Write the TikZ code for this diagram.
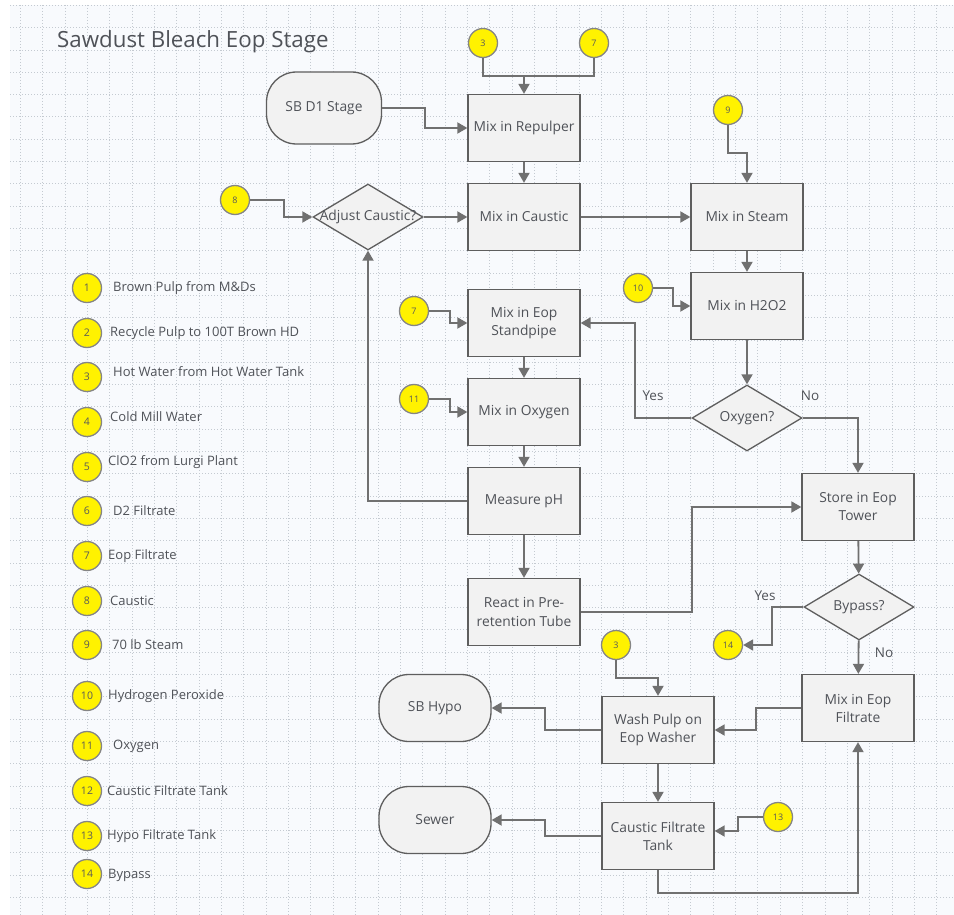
\documentclass[tikz,border=0pt]{standalone}
\usepackage{fontspec}
\setmainfont{Open Sans}
\usetikzlibrary{shapes.geometric,arrows.meta,positioning}

\definecolor{boxfill}{HTML}{F2F2F2}
\definecolor{boxline}{HTML}{5E5E5E}
\definecolor{wire}{HTML}{707070}
\definecolor{txt}{HTML}{4F5258}
\definecolor{sheet}{HTML}{F8FAFD}
\definecolor{gridc}{HTML}{C4CAD1}
\definecolor{refline}{HTML}{858585}

\begin{document}
\begin{tikzpicture}[x=1pt,y=-1pt,node distance=89pt]

\tikzstyle{process} = [rectangle, minimum width=112pt, minimum height=67pt, inner sep=2pt, text centered, align=center, fill=boxfill, draw=boxline, line width=1.3pt, text=txt, font=\fontsize{13.8}{18}\selectfont]
\tikzstyle{terminal} = [process, rounded corners=30pt]
\tikzstyle{decision} = [diamond, minimum width=110pt, minimum height=66pt, inner sep=0pt, fill=boxfill, draw=boxline, line width=1.3pt, text=txt, font=\fontsize{13.8}{18}\selectfont]
\tikzstyle{offpage} = [circle, minimum size=29pt, inner sep=0pt, fill=yellow, draw=refline, line width=1.3pt, text=black!65, font=\fontsize{9}{10}\selectfont]
\tikzstyle{line} = [draw=wire, line width=1.8pt]
\tikzstyle{arrow} = [line, -{Triangle[length=10pt,width=11pt]}]
\tikzstyle{answer} = [text=txt, font=\fontsize{13.5}{16}\selectfont, inner sep=0pt]
\tikzstyle{legend} = [anchor=west, text=txt, font=\fontsize{13}{15}\selectfont, inner sep=0pt]

% sheet and grid
\useasboundingbox (0,0) rectangle (954,915);
\fill[white] (0,0) rectangle (954,915);
\fill[sheet] (10,5) rectangle (954,915);
\foreach \gx in {20.3,42.65,...,954}
  \draw[gridc, line width=0.8pt, dash pattern=on 1pt off 2pt] (\gx,5) -- (\gx,915);
\foreach \gy in {5.4,27.7,...,915}
  \draw[gridc, line width=0.8pt, dash pattern=on 1pt off 2pt] (10,\gy) -- (954,\gy);

\node (title) [anchor=west, inner sep=0pt, text=txt, font=\fontsize{22.3}{26}\selectfont] at (57,42) {Sawdust Bleach Eop Stage};

% legend
\foreach \n/\lx/\ly/\cy/\txt in {1/113/288/288/Brown Pulp from M\&Ds,
    2/110/333/333/Recycle Pulp to 100T Brown HD,
    3/113/372/377/Hot Water from Hot Water Tank,
    4/110/417/422/Cold Mill Water,
    5/108/462/467/ClO2 from Lurgi Plant,
    6/113/511/511/D2 Filtrate,
    7/108/556/556/Eop Filtrate,
    8/110/601/601/Caustic,
    9/112/645/645/70 lb Steam,
    10/108/696/696/Hydrogen Peroxide,
    11/113/746/746/Oxygen,
    12/107/791/791/Caustic Filtrate Tank,
    13/107/836/836/Hypo Filtrate Tank,
    14/108/875/874/Bypass}
{
  \node (l\n) [offpage, font=\fontsize{10.5}{12}\selectfont] at (87,\cy) {\n};
  \node (lt\n) [legend] at (\lx,\ly) {\txt};
}

% flow
\node (sbd1) [terminal, minimum width=115pt, minimum height=72pt] at (324,108) {SB D1 Stage};
\node (rep) [process] at (524,128) {Mix in Repulper};
\node (caus) [process, below of = rep] {Mix in Caustic};
\node (adj) [decision] at (368,217) {\makebox[0pt]{Adjust Caustic?}};
\node (steam) [process] at (747,217) {Mix in Steam};
\node (h2o2) [process, below of = steam] {Mix in H2O2};
\node (oxq) [decision] at (747,418) {\makebox[0pt]{Oxygen?}};
\node (stand) [process] at (524,323) {Mix in Eop\\Standpipe};
\node (oxy) [process, below of = stand] {Mix in Oxygen};
\node (ph) [process, below of = oxy] {Measure pH};
\node (react) [process] at (524,612) {React in Pre-\\retention Tube};
\node (store) [process] at (858,507) {Store in Eop\\Tower};
\node (byp) [decision] at (859,607) {\makebox[0pt]{Bypass?}};
\node (filt) [process] at (858,708) {Mix in Eop\\Filtrate};
\node (wash) [process] at (658,730) {Wash Pulp on\\Eop Washer};
\node (tank) [process] at (658,836) {Caustic Filtrate\\Tank};
\node (hypo) [terminal] at (435,708) {SB Hypo};
\node (sewer) [terminal] at (435,820) {Sewer};

\node (c3a) [offpage] at (483,43) {3};
\node (c7a) [offpage] at (594,43) {7};
\node (c8) [offpage] at (235,200) {8};
\node (c9) [offpage] at (728,110) {9};
\node (c10) [offpage] at (638,288) {10};
\node (c7b) [offpage] at (414,311) {7};
\node (c11) [offpage] at (414,399) {11};
\node (c14) [offpage] at (728,645) {14};
\node (c3b) [offpage] at (616,645) {3};
\node (c13) [offpage] at (778,817) {13};

\node (yes1) [answer] at (653,396) {Yes};
\node (no1) [answer] at (810,396) {No};
\node (yes2) [answer] at (765,596) {Yes};
\node (no2) [answer] at (884,653) {No};

\coordinate (j1) at (524,76);
\draw [line] (c3a) |- (j1);
\draw [line] (c7a) |- (j1);
\draw [arrow] (j1) -- (rep);
\draw [arrow] (sbd1.east) -- ++(43,0) |- (rep.west);
\draw [arrow] (rep) -- (caus);
\draw [arrow] (c8.east) -- ++(34,0) |- (adj.west);
\draw [arrow] (adj) -- (caus);
\draw [arrow] (caus) -- (steam);
\draw [arrow] (c9) |- ([yshift=30pt]steam.north) -- (steam);
\draw [arrow] (steam) -- (h2o2);
\draw [arrow] (c10.east) -- ++(20,0) |- (h2o2.west);
\draw [arrow] (h2o2) -- (oxq);
\draw [arrow] (oxq.west) -- ++(-56,0) |- (stand.east);
\draw [arrow] (oxq.east) -| (store.north);
\draw [arrow] (c7b.east) -- ++(20.5,0) |- (stand.west);
\draw [arrow] (stand) -- (oxy);
\draw [arrow] (c11.east) -- ++(20.5,0) |- (oxy.west);
\draw [arrow] (oxy) -- (ph);
\draw [arrow] (ph.west) -| (adj.south);
\draw [arrow] (ph) -- (react);
\draw [arrow] (react.east) -- ++(111,0) |- (store.west);
\draw [arrow] (store) -- (byp);
\draw [arrow] (byp.west) -- ++(-31,0) |- (c14.east);
\draw [arrow] (byp) -- (filt);
\draw [arrow] (filt.west) -- ++(-45,0) |- (wash.east);
\draw [arrow] (c3b) |- ([yshift=18pt]wash.north) -- (wash);
\draw [arrow] (wash.west) -- ++(-56,0) |- (hypo.east);
\draw [arrow] (wash) -- (tank);
\draw [arrow] (c13.west) -- ++(-25,0) |- ([yshift=5pt]tank.east);
\draw [arrow] (tank.west) -- ++(-56,0) |- (sewer.east);
\draw [arrow] (tank.south) -- ++(0,23) -| (filt.south);

\end{tikzpicture}
\end{document}
